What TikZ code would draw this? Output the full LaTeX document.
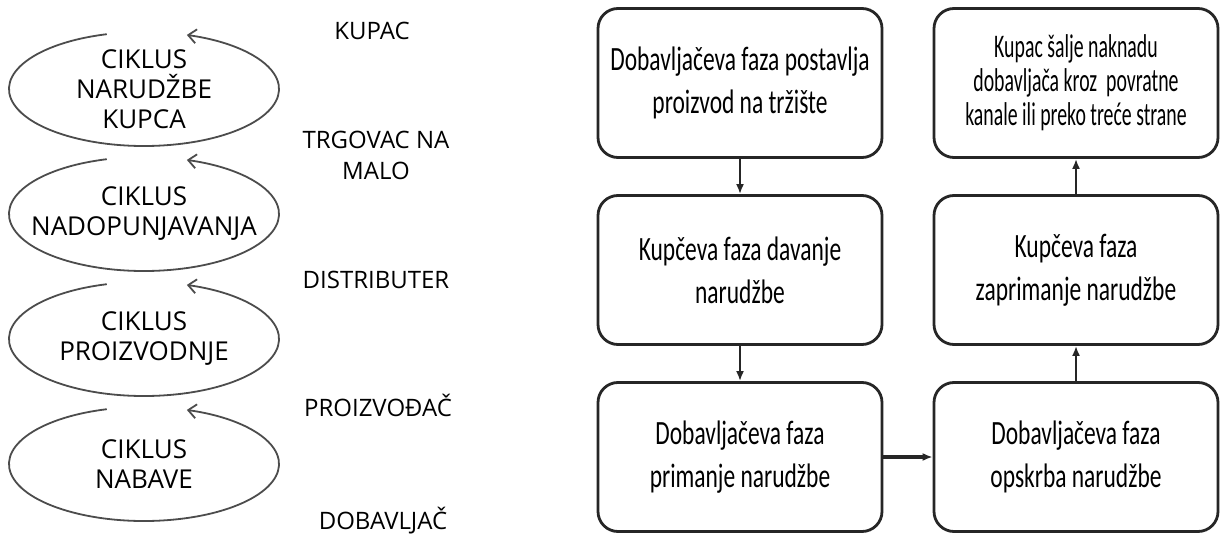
\documentclass[tikz,border=0pt]{standalone}
\usepackage{fontspec}
\setmainfont{Open Sans}
\newfontfamily\boxfont[FakeStretch=0.69]{Carlito}
\newfontfamily\uskifont[FakeStretch=0.6]{Carlito}
\usetikzlibrary{arrows.meta}

\tikzset{
  faza/.style={draw=black!85, line width=2.8pt, rounded corners=20pt,
    minimum width=284pt, minimum height=149pt, align=center,
    font=\boxfont\fontsize{34}{43}\selectfont},
  ciklus/.style={align=center, font=\fontsize{26}{30}\selectfont},
  akter/.style={align=center, font=\fontsize{24}{31}\selectfont},
  tok/.style={-{Latex[length=10pt,width=8pt]}, line width=2pt, draw=black!85},
  kruzno/.style={draw=black!70, line width=1.8pt, -{Straight Barb[length=8pt,width=14pt]}}
}

\begin{document}
\begin{tikzpicture}[x=1pt, y=-1pt, node distance=187pt, auto]
  \useasboundingbox (0,0) rectangle (1220,534);
  % lijevo: ciklusi
  \node[ciklus] (C1) at (144,89) {CIKLUS\\NARUDŽBE\\KUPCA};
  \node[ciklus] (C2) [below of=C1, node distance=125pt] {CIKLUS\\NADOPUNJAVANJA};
  \node[ciklus] (C3) [below of=C2, node distance=125pt] {CIKLUS\\PROIZVODNJE};
  \node[ciklus] (C4) [below of=C3, node distance=125pt] {CIKLUS\\NABAVE};
  \draw[kruzno] ([shift={(106:135pt and 57pt)}]C1.center) arc[start angle=106, end angle=431.5, x radius=135pt, y radius=57pt];
  \draw[kruzno] ([shift={(106:135pt and 57pt)}]C2.center) arc[start angle=106, end angle=431.5, x radius=135pt, y radius=57pt];
  \draw[kruzno] ([shift={(106:135pt and 57pt)}]C3.center) arc[start angle=106, end angle=431.5, x radius=135pt, y radius=57pt];
  \draw[kruzno] ([shift={(106:135pt and 57pt)}]C4.center) arc[start angle=106, end angle=431.5, x radius=135pt, y radius=57pt];
  \node[akter] (Kupac) at (372,31) {KUPAC};
  \node[akter] (Trgovac) at (376,155) {TRGOVAC NA\\MALO};
  \node[akter] (Distr) at (376,280) {DISTRIBUTER};
  \node[akter] (Proizv) at (378,405) {PROIZVOĐAČ};
  \node[akter] (Dobav) at (383,521) {DOBAVLJAČ};
  % desno: faze
  \node[faza] (P1) at (740,83) {Dobavljačeva faza postavlja\\proizvod na tržište};
  \node[faza] (P2) [below of=P1] {Kupčeva faza davanje\\narudžbe};
  \node[faza] (P3) [below of=P2] {Dobavljačeva faza\\primanje narudžbe};
  \node[faza] (P4) [right of=P3, node distance=336pt] {Dobavljačeva faza\\opskrba narudžbe};
  \node[faza] (P5) [above of=P4] {Kupčeva faza\\zaprimanje narudžbe};
  \node[faza, font=\uskifont\fontsize{33}{34}\selectfont] (P6) [above of=P5] {Kupac šalje naknadu\\dobavljača kroz~ povratne\\kanale ili preko treće strane};
  \draw[tok] (P1) -- (P2);
  \draw[tok] (P2) -- (P3);
  \draw[tok, line width=3.5pt] (P3) -- (P4);
  \draw[tok] (P4) -- (P5);
  \draw[tok] (P5) -- (P6);
\end{tikzpicture}
\end{document}
